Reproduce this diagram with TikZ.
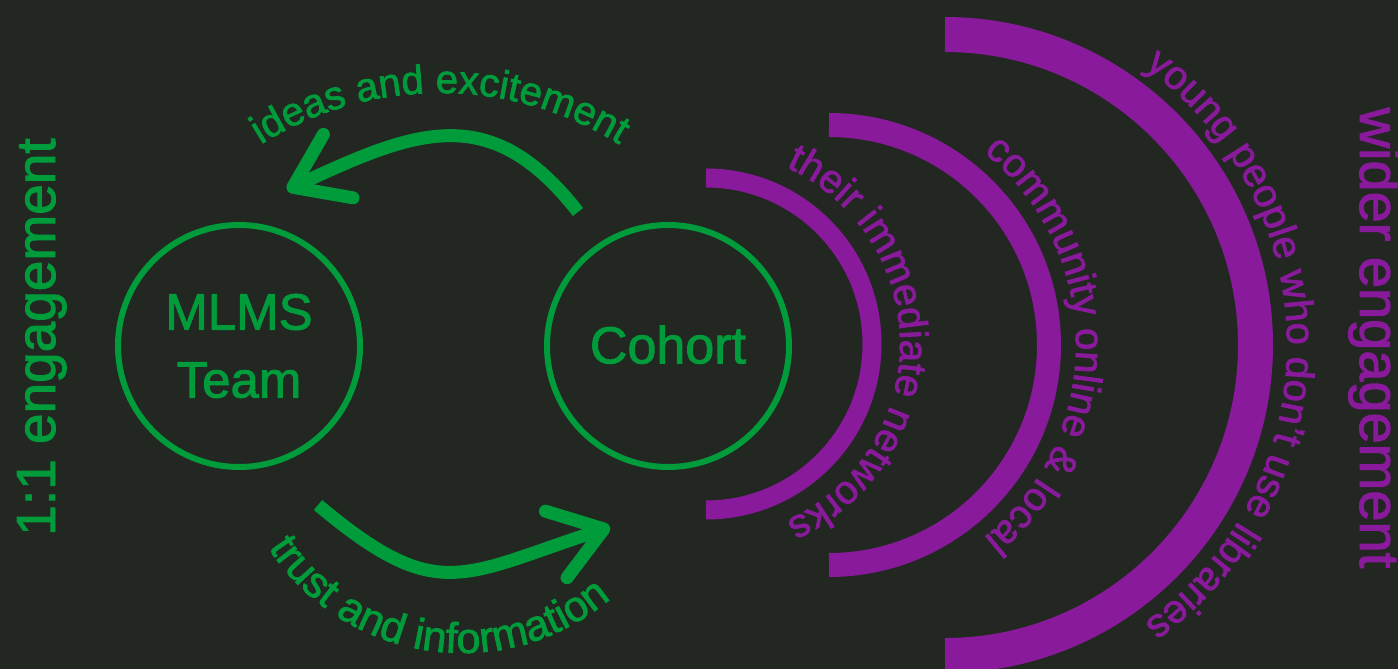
\documentclass[tikz,border=0pt]{standalone}
\usepackage{fontspec}
\setmainfont{Liberation Sans}[FakeBold=1.8]
\usetikzlibrary{arrows.meta,decorations.text}
\definecolor{bgdark}{HTML}{222722}
\definecolor{mlgreen}{HTML}{009B3A}
\definecolor{ringpurple}{HTML}{8A1A9C}
\newcommand{\arctext}{\fontsize{40}{48}\selectfont}

\begin{document}
\begin{tikzpicture}[x=1pt, y=1pt,
  crowd/.style={circle, draw=mlgreen, line width=6pt, minimum size=242pt, inner sep=0pt,
    text=mlgreen, align=center, font=\fontsize{51}{68}\selectfont},
  ring/.style={draw=ringpurple},
  flow/.style={draw=mlgreen, line width=13pt, -{Straight Barb[length=50pt, width=70pt, round]}},
  sidetext/.style={anchor=base, font=\fontsize{55}{66}\selectfont},
]
\fill[bgdark] (0,0) rectangle (1398,669);
\useasboundingbox (0,0) rectangle (1398,669);
\clip (0,0) rectangle (1398,669);

\node[crowd] (team) at (239,323) {MLMS\\Team};
\node[crowd, font=\fontsize{52}{62}\selectfont] (cohort) at (668,323) {\raisebox{3pt}{Cohort}};

% rings of wider engagement
\coordinate (inner) at (706,325);
\coordinate (middle) at (829,324);
\coordinate (outer) at (945,324);
\draw[ring, line width=19pt] (inner) ++(90:166) arc[start angle=90, end angle=-90, radius=166];
\draw[ring, line width=24pt] (middle) ++(90:220) arc[start angle=90, end angle=-90, radius=220];
\draw[ring, line width=35pt] (outer) ++(90:310.5) arc[start angle=90, end angle=-90, radius=310.5];

\path[decorate, decoration={text along path, text align=center, text color=ringpurple,
  text={|\arctext|their immediate networks}}]
  (inner) ++(90:194) arc[start angle=90, end angle=-90, radius=194];
\path[decorate, decoration={text along path, text align=center, text color=ringpurple,
  text={|\arctext|community online {\&} local}}]
  (middle) ++(90:247) arc[start angle=90, end angle=-90, radius=247];
\path[decorate, decoration={text along path, text align=center, text color=ringpurple,
  text={|\arctext|young people who don't use libraries}}]
  (outer) ++(90:342) arc[start angle=90, end angle=-90, radius=342];

% flows between team and cohort
\coordinate (ideasfrom) at (578,457);
\coordinate (ideasto) at (287,479);
\draw[flow] (ideasfrom) to[out=128, in=25, looseness=1.25] (ideasto);
\coordinate (trustfrom) at (318,164);
\coordinate (trustto) at (610,142);
\draw[flow] (trustfrom) to[out=-40, in=198, looseness=1.37] (trustto);

\coordinate (ideasarc) at (440,239);
\coordinate (trustarc) at (462,247);
\path[decorate, decoration={text along path, text align=center, text color=mlgreen,
  text={|\arctext|ideas and excitement}}]
  (ideasarc) ++(180:337) arc[start angle=180, end angle=0, radius=337];
\path[decorate, decoration={text along path, text color=mlgreen,
  text={|\fontsize{43}{50}\selectfont|trust and information}}]
  (trustarc) ++(213:231) arc[start angle=213, end angle=340, radius=231];

\node[sidetext, rotate=90, text=mlgreen] (oneone) at (55,332) {1:1 engagement};
\node[sidetext, rotate=-90, text=ringpurple, font=\fontsize{56}{66}\selectfont] (wider) at (1360,331) {wider engagement};
\end{tikzpicture}
\end{document}
